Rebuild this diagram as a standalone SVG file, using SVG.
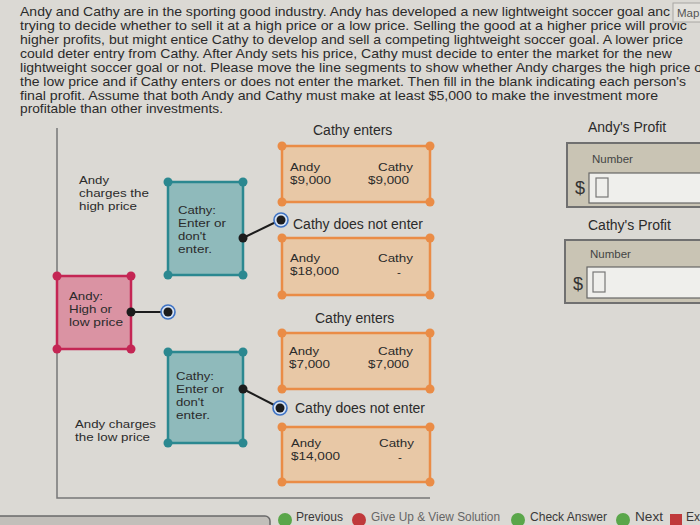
<svg xmlns="http://www.w3.org/2000/svg" width="700" height="525" viewBox="0 0 700 525">
<style>
text{font-family:"Liberation Sans",Arial,sans-serif;fill:#2b2b2b;}
.p{font-size:12.2px;}
.t{font-size:11.6px;}
.s{font-size:14px;}
.b{font-size:11.6px;}
.r{text-anchor:end;}
.ob{fill:#e8c8a6;stroke:#ea8c46;stroke-width:2.5;}
.od{fill:#ea8c46;}
.tb{fill:#8fbabb;stroke:#2b8890;stroke-width:2.5;}
.td{fill:#2b8890;}
.rb{fill:#da93a3;stroke:#c42654;stroke-width:2.5;}
.rd{fill:#c42654;}
.bd{fill:#1c1c1c;}
.ring{fill:#d6e3f4;stroke:#3f73c4;stroke-width:1.6;}
.cn{stroke:#1c1c1c;stroke-width:2;fill:none;}
.pb{fill:#c9c4b4;stroke:#707070;stroke-width:2;}
.in{fill:#efefec;stroke:#666;stroke-width:1.2;}
.sq{fill:none;stroke:#777;stroke-width:1.2;}
.nav{font-size:12px;fill:#3a3a3a;}
</style>
<rect x="0" y="0" width="700" height="525" fill="#dbd9d4"/>

<g id="prompt">
<text class="p" x="20" y="16" textLength="650" lengthAdjust="spacingAndGlyphs">Andy and Cathy are in the sporting good industry. Andy has developed a new lightweight soccer goal anc</text>
<text class="p" x="20" y="30" textLength="667" lengthAdjust="spacingAndGlyphs">trying to decide whether to sell it at a high price or a low price. Selling the good at a higher price will provic</text>
<text class="p" x="20" y="44" textLength="663" lengthAdjust="spacingAndGlyphs">higher profits, but might entice Cathy to develop and sell a competing lightweight soccer goal. A lower price</text>
<text class="p" x="20" y="58" textLength="652" lengthAdjust="spacingAndGlyphs">could deter entry from Cathy. After Andy sets his price, Cathy must decide to enter the market for the new</text>
<text class="p" x="20" y="72" textLength="682" lengthAdjust="spacingAndGlyphs">lightweight soccer goal or not. Please move the line segments to show whether Andy charges the high price o</text>
<text class="p" x="20" y="85.5" textLength="666" lengthAdjust="spacingAndGlyphs">the low price and if Cathy enters or does not enter the market. Then fill in the blank indicating each person's</text>
<text class="p" x="20" y="99.5" textLength="638" lengthAdjust="spacingAndGlyphs">final profit. Assume that both Andy and Cathy must make at least $5,000 to make the investment more</text>
<text class="p" x="20" y="113" textLength="203" lengthAdjust="spacingAndGlyphs">profitable than other investments.</text>
</g>

<g id="map-tab">
<rect x="673" y="3" width="32" height="19" fill="#e3e1dc" stroke="#a8a6a2" stroke-width="1"/>
<text x="677" y="17" style="font-size:11.5px;fill:#555;">Map</text>
</g>

<g id="frame">
<polyline points="57,128 57,498 430,498" fill="none" stroke="#777" stroke-width="1.5"/>
</g>

<g id="connectors">
<line class="cn" x1="131" y1="312" x2="168" y2="312"/>
<line class="cn" x1="243" y1="238" x2="280" y2="220"/>
<line class="cn" x1="243" y1="389" x2="280" y2="408"/>
</g>

<g id="andy-high-label">
<text class="t" x="79" y="184" textLength="30" lengthAdjust="spacingAndGlyphs">Andy</text>
<text class="t" x="79" y="197" textLength="70" lengthAdjust="spacingAndGlyphs">charges the</text>
<text class="t" x="79" y="210" textLength="58" lengthAdjust="spacingAndGlyphs">high price</text>
</g>
<g id="andy-low-label">
<text class="t" x="75" y="428" textLength="81" lengthAdjust="spacingAndGlyphs">Andy charges</text>
<text class="t" x="75" y="441" textLength="75" lengthAdjust="spacingAndGlyphs">the low price</text>
</g>

<g id="andy-node">
<rect class="rb" x="57" y="276" width="74" height="73"/>
<circle class="rd" cx="57" cy="276" r="4.5"/><circle class="rd" cx="131" cy="276" r="4.5"/>
<circle class="rd" cx="57" cy="349" r="4.5"/><circle class="rd" cx="131" cy="349" r="4.5"/>
<text class="t" x="69" y="300" textLength="34" lengthAdjust="spacingAndGlyphs">Andy:</text>
<text class="t" x="69" y="313" textLength="43" lengthAdjust="spacingAndGlyphs">High or</text>
<text class="t" x="69" y="326" textLength="54" lengthAdjust="spacingAndGlyphs">low price</text>
<circle class="bd" cx="131" cy="312" r="4.5"/>
</g>

<g id="andy-choice-point">
<circle class="ring" cx="168" cy="312" r="7"/>
<circle class="bd" cx="168" cy="312" r="4.5"/>
</g>

<g id="cathy-node-high">
<rect class="tb" x="168" y="182" width="75" height="93"/>
<circle class="td" cx="168" cy="182" r="4.5"/><circle class="td" cx="243" cy="182" r="4.5"/>
<circle class="td" cx="168" cy="275" r="4.5"/><circle class="td" cx="243" cy="275" r="4.5"/>
<text class="t" x="178" y="214" textLength="38" lengthAdjust="spacingAndGlyphs">Cathy:</text>
<text class="t" x="178" y="227" textLength="48" lengthAdjust="spacingAndGlyphs">Enter or</text>
<text class="t" x="178" y="240" textLength="28" lengthAdjust="spacingAndGlyphs">don't</text>
<text class="t" x="178" y="253" textLength="34" lengthAdjust="spacingAndGlyphs">enter.</text>
<circle class="bd" cx="243" cy="238" r="4.5"/>
</g>

<g id="cathy-node-low">
<rect class="tb" x="168" y="352" width="75" height="91"/>
<circle class="td" cx="168" cy="352" r="4.5"/><circle class="td" cx="243" cy="352" r="4.5"/>
<circle class="td" cx="168" cy="443" r="4.5"/><circle class="td" cx="243" cy="443" r="4.5"/>
<text class="t" x="176" y="380" textLength="38" lengthAdjust="spacingAndGlyphs">Cathy:</text>
<text class="t" x="176" y="393" textLength="48" lengthAdjust="spacingAndGlyphs">Enter or</text>
<text class="t" x="176" y="406" textLength="28" lengthAdjust="spacingAndGlyphs">don't</text>
<text class="t" x="176" y="419" textLength="34" lengthAdjust="spacingAndGlyphs">enter.</text>
<circle class="bd" cx="243" cy="389" r="4.5"/>
</g>

<g id="high-enter">
<text class="s" x="313" y="135">Cathy enters</text>
<rect class="ob" x="282" y="146" width="148" height="56"/>
<circle class="od" cx="282" cy="146" r="4.5"/><circle class="od" cx="430" cy="146" r="4.5"/>
<circle class="od" cx="282" cy="202" r="4.5"/><circle class="od" cx="430" cy="202" r="4.5"/>
<text class="b" x="290" y="171" textLength="30" lengthAdjust="spacingAndGlyphs">Andy</text>
<text class="b" x="290" y="184" textLength="41" lengthAdjust="spacingAndGlyphs">$9,000</text>
<text class="b" x="378" y="171" textLength="35" lengthAdjust="spacingAndGlyphs">Cathy</text>
<text class="b" x="368" y="184" textLength="41" lengthAdjust="spacingAndGlyphs">$9,000</text>
</g>

<g id="high-not-enter">
<circle class="ring" cx="281" cy="220" r="7"/>
<circle class="bd" cx="281" cy="220" r="4.5"/>
<text class="s" x="293" y="229">Cathy does not enter</text>
<rect class="ob" x="282" y="238" width="148" height="57"/>
<circle class="od" cx="282" cy="238" r="4.5"/><circle class="od" cx="430" cy="238" r="4.5"/>
<circle class="od" cx="282" cy="295" r="4.5"/><circle class="od" cx="430" cy="295" r="4.5"/>
<text class="b" x="290" y="262" textLength="30" lengthAdjust="spacingAndGlyphs">Andy</text>
<text class="b" x="290" y="275" textLength="49" lengthAdjust="spacingAndGlyphs">$18,000</text>
<text class="b" x="378" y="262" textLength="35" lengthAdjust="spacingAndGlyphs">Cathy</text>
<text class="b" x="397" y="276">-</text>
</g>

<g id="low-enter">
<text class="s" x="315" y="323">Cathy enters</text>
<rect class="ob" x="282" y="333" width="148" height="56"/>
<circle class="od" cx="282" cy="333" r="4.5"/><circle class="od" cx="430" cy="333" r="4.5"/>
<circle class="od" cx="282" cy="389" r="4.5"/><circle class="od" cx="430" cy="389" r="4.5"/>
<text class="b" x="289" y="355" textLength="30" lengthAdjust="spacingAndGlyphs">Andy</text>
<text class="b" x="289" y="368" textLength="41" lengthAdjust="spacingAndGlyphs">$7,000</text>
<text class="b" x="378" y="355" textLength="35" lengthAdjust="spacingAndGlyphs">Cathy</text>
<text class="b" x="368" y="368" textLength="41" lengthAdjust="spacingAndGlyphs">$7,000</text>
</g>

<g id="low-not-enter">
<circle class="ring" cx="280" cy="408" r="7"/>
<circle class="bd" cx="280" cy="408" r="4.5"/>
<text class="s" x="295" y="413">Cathy does not enter</text>
<rect class="ob" x="282" y="427" width="148" height="55"/>
<circle class="od" cx="282" cy="427" r="4.5"/><circle class="od" cx="430" cy="427" r="4.5"/>
<circle class="od" cx="282" cy="482" r="4.5"/><circle class="od" cx="430" cy="482" r="4.5"/>
<text class="b" x="291" y="447" textLength="30" lengthAdjust="spacingAndGlyphs">Andy</text>
<text class="b" x="291" y="460" textLength="49" lengthAdjust="spacingAndGlyphs">$14,000</text>
<text class="b" x="379" y="447" textLength="35" lengthAdjust="spacingAndGlyphs">Cathy</text>
<text class="b" x="398" y="461">-</text>
</g>

<g id="andy-profit">
<text class="s" x="588" y="132">Andy's Profit</text>
<rect class="pb" x="567" y="143" width="140" height="64"/>
<text x="592" y="163" style="font-size:11.5px;fill:#444;">Number</text>
<text x="575" y="194" style="font-size:18px;fill:#333;">$</text>
<rect class="in" x="589" y="173" width="120" height="30"/>
<rect class="sq" x="596" y="178" width="12" height="19"/>
</g>

<g id="cathy-profit">
<text class="s" x="588" y="230">Cathy's Profit</text>
<rect class="pb" x="565" y="240" width="140" height="63"/>
<text x="590" y="258" style="font-size:11.5px;fill:#444;">Number</text>
<text x="573" y="290" style="font-size:18px;fill:#333;">$</text>
<rect class="in" x="587" y="267" width="122" height="31"/>
<rect class="sq" x="593" y="272" width="12" height="20"/>
</g>

<g id="bottom-bar">
<rect x="-5" y="516" width="275" height="20" rx="5" fill="#c2bfba" stroke="#6a6a6a" stroke-width="1.5"/>
<circle cx="285" cy="520" r="7" fill="#5aa64a"/>
<text class="nav" x="296" y="521" textLength="47" lengthAdjust="spacingAndGlyphs">Previous</text>
<circle cx="359" cy="520" r="7" fill="#c0393b"/>
<text class="nav" x="371" y="521" style="fill:#666;" textLength="129" lengthAdjust="spacingAndGlyphs">Give Up &amp; View Solution</text>
<circle cx="518" cy="520" r="7" fill="#5aa64a"/>
<text class="nav" x="530" y="521" textLength="77" lengthAdjust="spacingAndGlyphs">Check Answer</text>
<circle cx="623" cy="520" r="7" fill="#5aa64a"/>
<text class="nav" x="635" y="521" textLength="28" lengthAdjust="spacingAndGlyphs">Next</text>
<rect x="670" y="514" width="12" height="12" fill="#c0393b"/>
<text class="nav" x="686" y="521">Ex</text>
</g>
</svg>
